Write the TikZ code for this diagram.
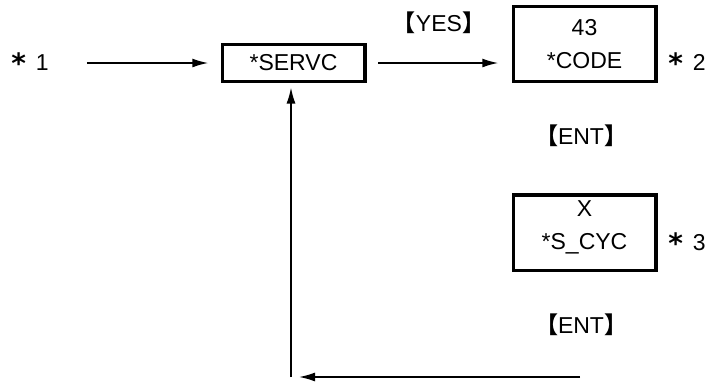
\documentclass[tikz,border=0pt]{standalone}
\usepackage{fontspec}
\setmainfont{Liberation Sans}
\newfontfamily\cjk{Noto Sans CJK JP}
\newfontfamily\dejavu{DejaVu Sans}
\usetikzlibrary{arrows.meta, positioning, calc}
\newcommand{\kakko}[1]{{\cjk\bfseries 【}#1{\cjk\bfseries 】}}
\newcommand{\hoshi}[1]{\raisebox{-3pt}{\fontsize{28}{28}\selectfont\dejavu\bfseries *}\hspace{10pt}#1}

\begin{document}
\begin{tikzpicture}[x=1pt, y=1pt,
		every node/.style={font=\fontsize{23}{33}\selectfont},
		box/.style={draw, line width=3.5pt, minimum width=142.5pt, inner sep=0pt, outer sep=0pt, align=center},
		conn/.style={line width=1.6pt, -{Latex[length=16pt, width=9pt]}},
		lbl/.style={inner sep=0pt}]
	\useasboundingbox (0,0) rectangle (712,-381);
	% boites
	\node[box, minimum height=37pt] (servc) at (293.5,-63) {*SERVC};
	\node[box, minimum height=75pt] (code) at (584.5,-44) {43\\*CODE};
	\node[box, minimum height=75.5pt, text depth=14pt] (cyc) at (584.5,-232.5) {X\\*S\_CYC};
	% textes
	\node[lbl] (star1) at (30,-63) {\hoshi{1}};
	\node[lbl] (yes) at (439,-23) {\kakko{YES}};
	\node[lbl] (star2) at (687,-63) {\hoshi{2}};
	\node[lbl] (ent1) at (581,-136) {\kakko{ENT}};
	\node[lbl] (star3) at (687,-243) {\hoshi{3}};
	\node[lbl] (ent2) at (581,-325) {\kakko{ENT}};
	% fleches
	\draw[conn, shorten <=38pt, shorten >=14pt] (star1.east) -- (servc.west);
	\draw[conn, shorten <=13.5pt, shorten >=15pt] (servc.east) -- (servc.east -| code.west);
	% retour
	\coordinate (ret) at (580,-377);
	\coordinate (corner) at (291,-377);
	\draw[conn, shorten >=8pt] (ret) -- (corner);
	\draw[conn, shorten >=6pt] (corner) -- (corner |- servc.south);
\end{tikzpicture}
\end{document}
